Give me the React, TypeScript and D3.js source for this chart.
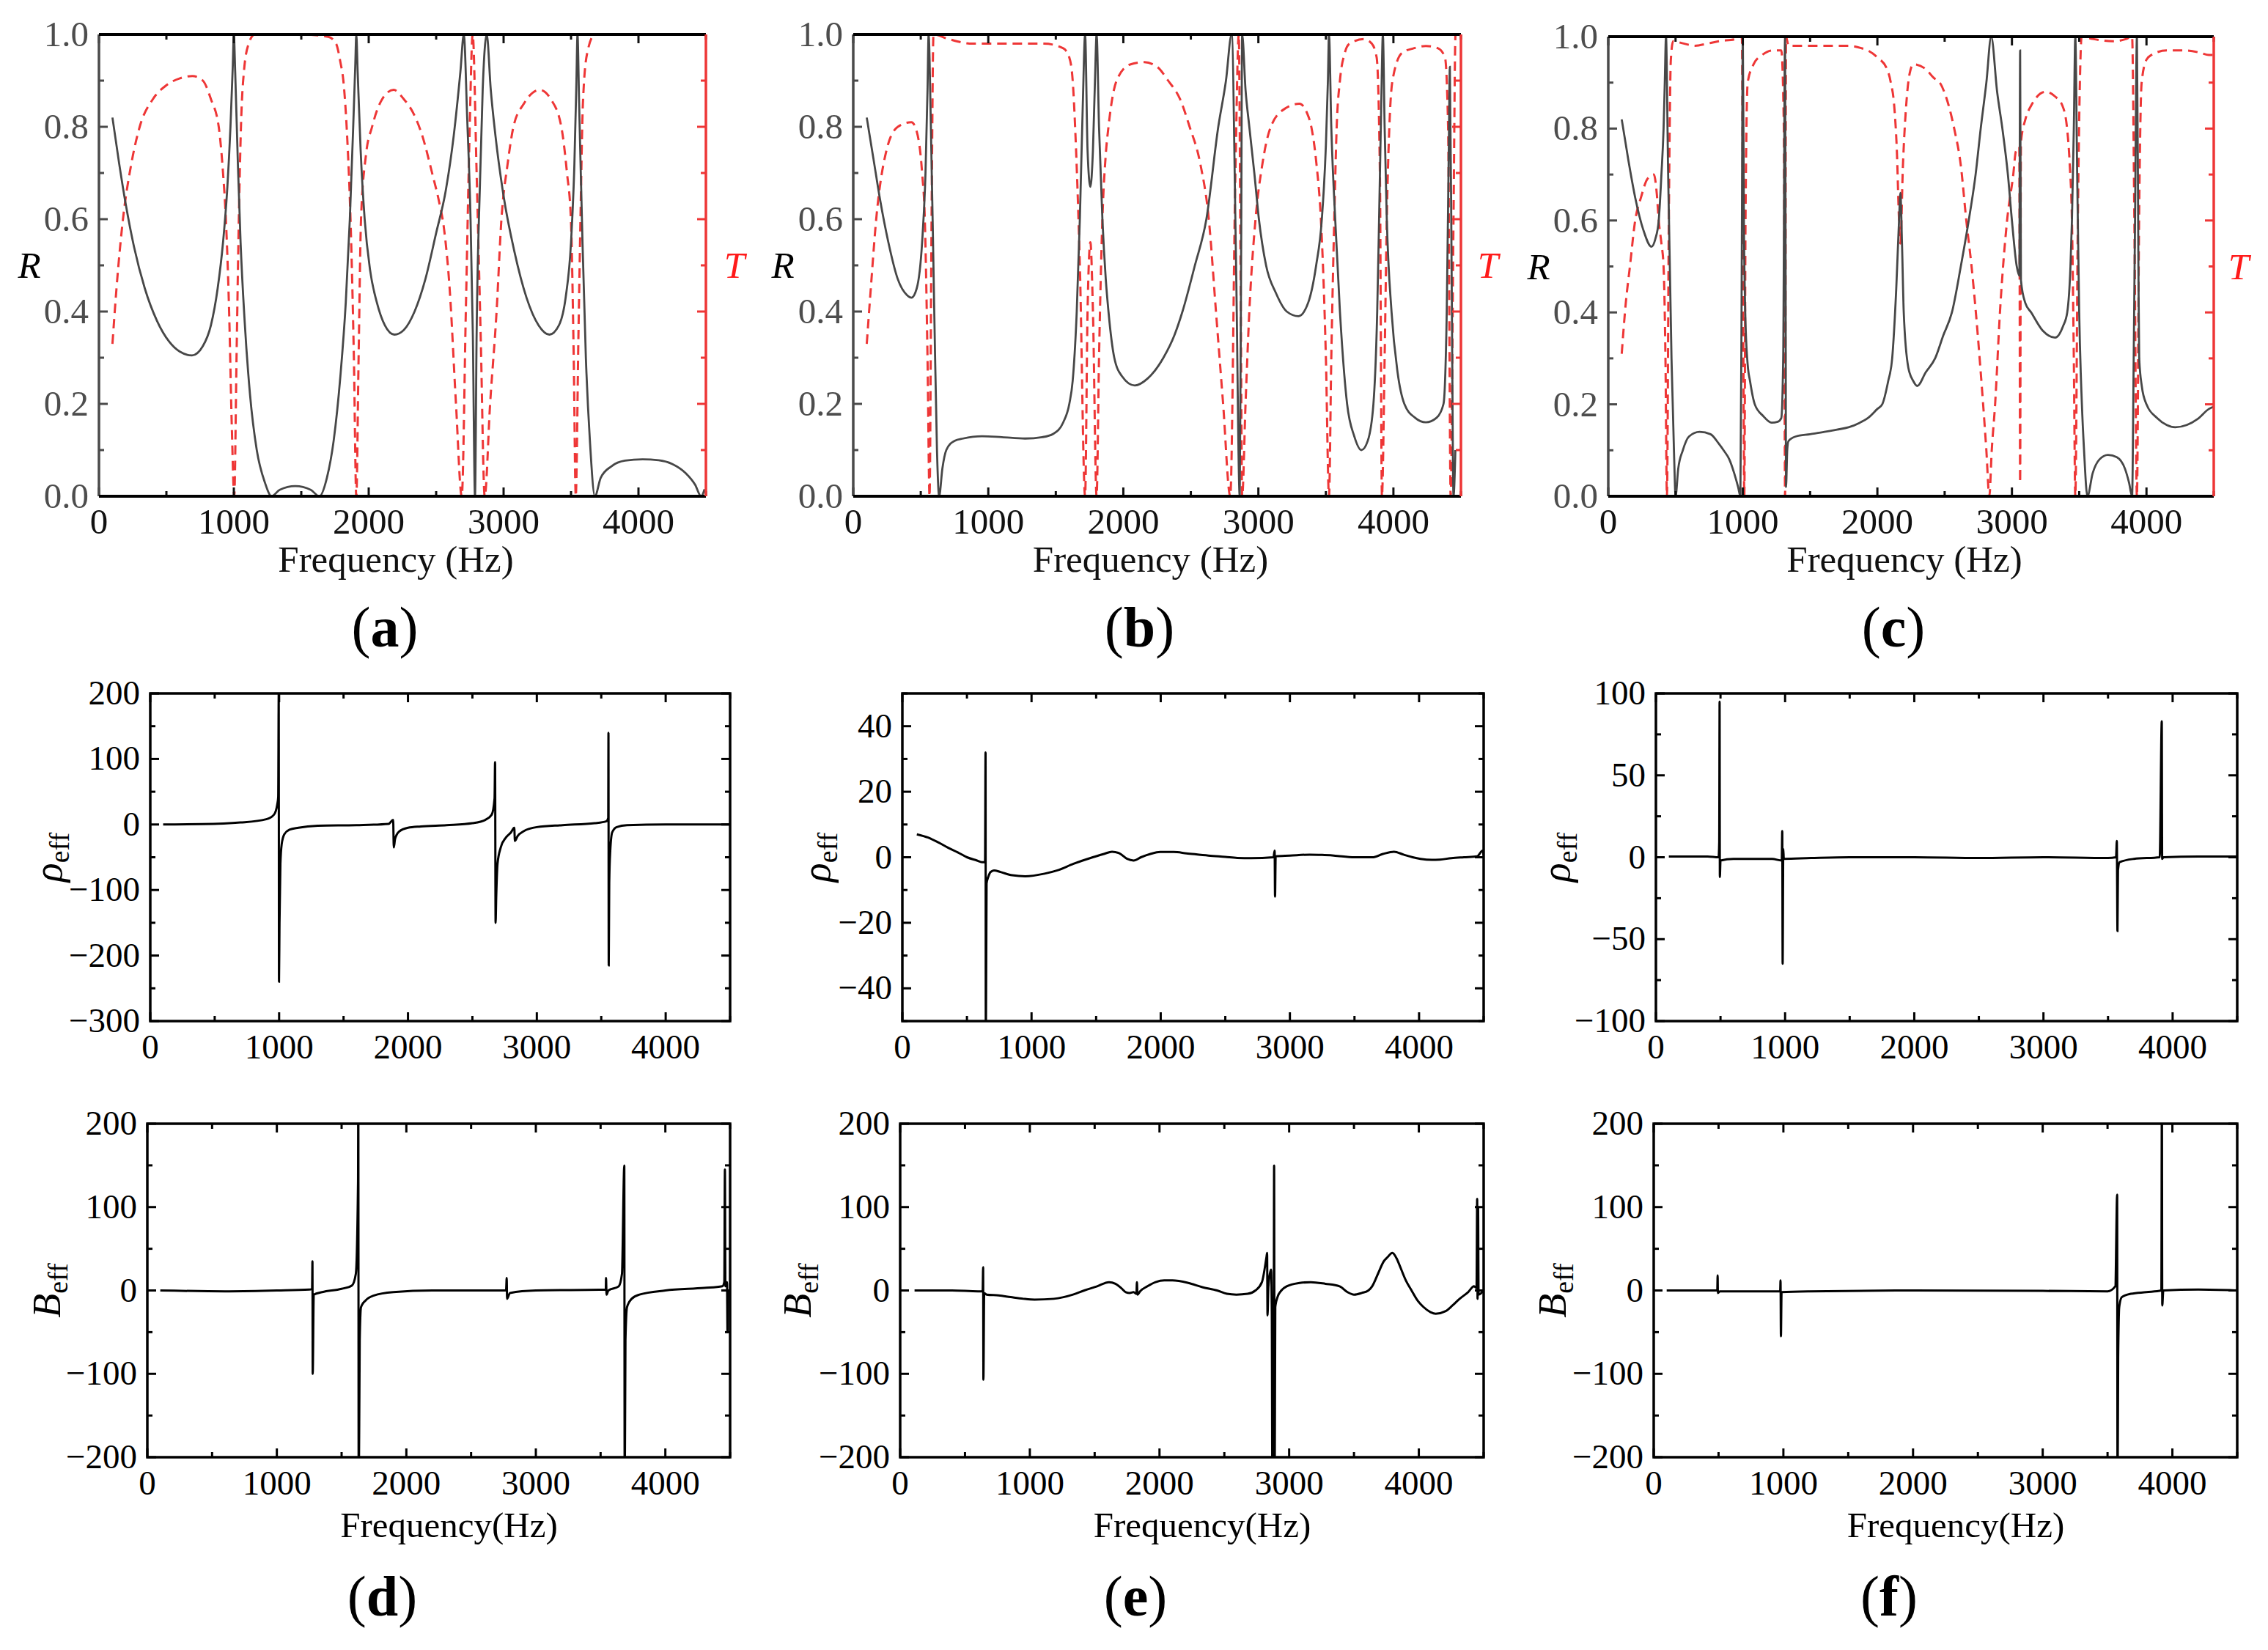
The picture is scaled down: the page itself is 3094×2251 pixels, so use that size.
import React from "react";
import * as d3 from "d3";

type Pt = [number, number];

// ---------- tick values ----------
const freqTicks = [0, 1000, 2000, 3000, 4000];
const rtTicks = [0, 0.2, 0.4, 0.6, 0.8, 1.0];
const rhoTicksD = [-300, -200, -100, 0, 100, 200];
const rhoTicksE = [-40, -20, 0, 20, 40];
const rhoTicksF = [-100, -50, 0, 50, 100];
const bTicks = [-200, -100, 0, 100, 200];

// ---------- (a) reflection R and transmission T ----------
const aR: Pt[] = [
  [100, 0.82], [150, 0.72], [200, 0.63], [260, 0.54], [340, 0.45], [430, 0.38], [520, 0.335],
  [600, 0.313], [690, 0.305], [770, 0.325], [830, 0.37], [880, 0.45], [920, 0.55], [950, 0.66],
  [975, 0.8], [992, 0.93], [1000, 1.0], [1010, 0.92], [1030, 0.72], [1050, 0.55], [1080, 0.38],
  [1120, 0.22], [1170, 0.1], [1230, 0.03], [1280, 0], [1340, 0.014], [1456, 0.022], [1570, 0.014],
  [1634, 0], [1690, 0.04], [1740, 0.12], [1790, 0.26], [1830, 0.42], [1860, 0.6], [1885, 0.8],
  [1900, 0.93], [1908, 1.0], [1918, 0.92], [1940, 0.75], [1970, 0.6], [2010, 0.49], [2060, 0.42],
  [2120, 0.37], [2190, 0.35], [2260, 0.36], [2340, 0.4], [2420, 0.47], [2500, 0.57], [2570, 0.66],
  [2630, 0.78], [2680, 0.92], [2705, 1.0], [2730, 0.82], [2755, 0.6], [2772, 0.35], [2788, 0],
  [2800, 0.35], [2825, 0.68], [2845, 0.88], [2875, 1.0], [2905, 0.88], [2940, 0.78], [3000, 0.65],
  [3080, 0.53], [3170, 0.43], [3260, 0.37], [3340, 0.35], [3410, 0.37], [3460, 0.43], [3500, 0.55],
  [3525, 0.72], [3540, 0.9], [3548, 1.0], [3560, 0.85], [3585, 0.55], [3610, 0.3], [3640, 0.12],
  [3677, 0], [3720, 0.04], [3800, 0.065], [3900, 0.077], [4030, 0.08], [4150, 0.078], [4250, 0.07],
  [4350, 0.05], [4420, 0.025], [4465, 0], [4490, 0.015],
];
const aT: Pt[] = [
  [100, 0.33], [130, 0.45], [178, 0.6], [240, 0.72], [302, 0.8], [400, 0.86], [500, 0.89],
  [600, 0.905], [693, 0.91], [770, 0.9], [830, 0.86], [888, 0.8], [920, 0.7], [941, 0.6],
  [965, 0.4], [985, 0.15], [1003, 0], [1020, 0.3], [1037, 0.6], [1055, 0.82], [1075, 0.92],
  [1110, 0.98], [1155, 1.0], [1500, 1.0], [1700, 0.995], [1758, 0.98], [1790, 0.94], [1812, 0.9],
  [1840, 0.78], [1865, 0.6], [1890, 0.3], [1908, 0], [1925, 0.3], [1943, 0.6], [1980, 0.74],
  [2025, 0.8], [2100, 0.86], [2185, 0.88], [2260, 0.86], [2330, 0.83], [2398, 0.78], [2470, 0.7],
  [2520, 0.64], [2558, 0.58], [2600, 0.45], [2647, 0.2], [2690, 0], [2720, 0.4], [2745, 0.75],
  [2771, 1.0], [2800, 0.7], [2830, 0.35], [2860, 0], [2900, 0.2], [2948, 0.4], [2984, 0.6],
  [3030, 0.72], [3073, 0.8], [3150, 0.85], [3268, 0.88], [3350, 0.86], [3428, 0.8], [3470, 0.7],
  [3499, 0.6], [3520, 0.3], [3535, 0], [3555, 0.35], [3570, 0.6], [3588, 0.85], [3620, 0.96],
  [3677, 1.0], [4500, 1.0],
];

// ---------- (b) ----------
const bR: Pt[] = [
  [100, 0.82], [150, 0.73], [200, 0.64], [260, 0.55], [330, 0.47], [400, 0.435], [431, 0.43],
  [470, 0.45], [510, 0.55], [535, 0.7], [550, 0.88], [558, 1.0], [575, 0.8], [600, 0.4],
  [620, 0.1], [636, 0], [660, 0.06], [689, 0.1], [750, 0.12], [813, 0.125], [954, 0.13],
  [1100, 0.128], [1272, 0.125], [1400, 0.128], [1480, 0.135], [1555, 0.16], [1600, 0.2],
  [1625, 0.25], [1655, 0.4], [1678, 0.6], [1700, 0.85], [1717, 1.0], [1735, 0.75], [1756, 0.67],
  [1775, 0.75], [1790, 0.9], [1802, 1.0], [1820, 0.8], [1845, 0.6], [1870, 0.47], [1890, 0.4],
  [1933, 0.3], [1990, 0.26], [2085, 0.24], [2180, 0.255], [2297, 0.3], [2380, 0.35], [2438, 0.4],
  [2530, 0.5], [2615, 0.6], [2703, 0.8], [2760, 0.9], [2802, 1.0], [2835, 0.5], [2862, 0],
  [2872, 0.5], [2880, 1.0], [2905, 0.88], [2933, 0.8], [2970, 0.7], [3004, 0.6], [3057, 0.5],
  [3130, 0.44], [3210, 0.4], [3297, 0.39], [3370, 0.42], [3428, 0.5], [3470, 0.6], [3500, 0.76],
  [3515, 0.9], [3523, 1.0], [3540, 0.8], [3569, 0.6], [3604, 0.4], [3657, 0.2], [3710, 0.13],
  [3763, 0.1], [3810, 0.12], [3852, 0.2], [3880, 0.4], [3894, 0.6], [3910, 0.85], [3922, 1.0],
  [3935, 0.8], [3951, 0.6], [3986, 0.4], [4030, 0.27], [4081, 0.2], [4160, 0.17], [4240, 0.16],
  [4320, 0.17], [4371, 0.2], [4395, 0.4], [4410, 0.75], [4418, 0.93], [4432, 0.45], [4445, 0],
  [4459, 0.1],
];
const bT: Pt[] = [
  [100, 0.33], [130, 0.45], [170, 0.6], [247, 0.75], [330, 0.8], [431, 0.81], [470, 0.79],
  [510, 0.7], [530, 0.6], [550, 0.3], [565, 0], [580, 0.6], [594, 1.0], [707, 0.99], [883, 0.98],
  [1413, 0.98], [1555, 0.97], [1600, 0.95], [1625, 0.9], [1650, 0.75], [1678, 0.5], [1717, 0],
  [1735, 0.4], [1756, 0.55], [1775, 0.4], [1802, 0], [1820, 0.3], [1845, 0.6], [1870, 0.74],
  [1890, 0.8], [1950, 0.9], [2050, 0.935], [2155, 0.94], [2250, 0.93], [2332, 0.9], [2420, 0.86],
  [2491, 0.8], [2570, 0.72], [2633, 0.6], [2686, 0.4], [2739, 0.2], [2792, 0], [2830, 0.7],
  [2855, 1.0], [2868, 0.5], [2880, 0], [2905, 0.2], [2933, 0.4], [2979, 0.6], [3030, 0.72],
  [3092, 0.8], [3200, 0.84], [3304, 0.85], [3360, 0.83], [3392, 0.8], [3430, 0.72], [3463, 0.6],
  [3500, 0.3], [3523, 0], [3540, 0.3], [3562, 0.6], [3580, 0.8], [3604, 0.9], [3640, 0.96],
  [3675, 0.98], [3781, 0.99], [3840, 0.98], [3876, 0.95], [3900, 0.7], [3915, 0], [3935, 0.3],
  [3951, 0.6], [3970, 0.8], [3993, 0.9], [4064, 0.96], [4150, 0.97], [4240, 0.975], [4330, 0.97],
  [4382, 0.95], [4405, 0.8], [4424, 0], [4445, 0.6], [4460, 1.0], [4500, 1.0],
];

// ---------- (c) ----------
const cR: Pt[] = [
  [100, 0.82], [150, 0.73], [200, 0.65], [260, 0.58], [321, 0.543], [350, 0.56], [375, 0.6],
  [395, 0.7], [411, 0.8], [420, 0.9], [429, 1.0], [445, 0.7], [470, 0.3], [490, 0.08], [500, 0],
  [520, 0.06], [554, 0.1], [600, 0.13], [679, 0.14], [760, 0.135], [820, 0.115], [857, 0.1],
  [900, 0.08], [936, 0.05], [965, 0.02], [982, 0], [992, 0.5], [1000, 1.0], [1008, 0.6],
  [1018, 0.4], [1035, 0.29], [1054, 0.25], [1089, 0.2], [1150, 0.175], [1214, 0.16],
  [1260, 0.162], [1286, 0.17], [1300, 0.3], [1314, 1.0], [1318, 0.5], [1321, 0.02], [1330, 0.1],
  [1339, 0.12], [1393, 0.13], [1500, 0.135], [1607, 0.14], [1700, 0.145], [1786, 0.15],
  [1870, 0.16], [1929, 0.17], [2000, 0.19], [2036, 0.2], [2080, 0.25], [2110, 0.3], [2140, 0.45],
  [2161, 0.6], [2171, 0.66], [2183, 0.55], [2196, 0.4], [2230, 0.28], [2268, 0.25], [2296, 0.24],
  [2360, 0.27], [2429, 0.3], [2490, 0.35], [2554, 0.4], [2620, 0.5], [2679, 0.6], [2730, 0.7],
  [2768, 0.8], [2810, 0.9], [2846, 1.0], [2890, 0.88], [2929, 0.8], [2970, 0.7], [3000, 0.6],
  [3036, 0.5], [3055, 0.48], [3061, 0.97], [3067, 0.47], [3100, 0.42], [3143, 0.4], [3230, 0.36],
  [3321, 0.345], [3380, 0.37], [3411, 0.4], [3435, 0.5], [3446, 0.6], [3460, 0.8], [3471, 1.0],
  [3485, 0.7], [3500, 0.4], [3520, 0.2], [3536, 0.1], [3561, 0], [3600, 0.05], [3650, 0.08],
  [3714, 0.09], [3780, 0.085], [3840, 0.06], [3870, 0.03], [3893, 0], [3905, 0.3], [3915, 0.6],
  [3929, 1.0], [3940, 0.5], [3946, 0.3], [3965, 0.24], [4000, 0.2], [4080, 0.17], [4150, 0.155],
  [4214, 0.15], [4300, 0.155], [4380, 0.168], [4464, 0.19], [4500, 0.195],
];
const cT: Pt[] = [
  [100, 0.31], [130, 0.42], [161, 0.5], [200, 0.6], [243, 0.65], [290, 0.69], [339, 0.7],
  [360, 0.66], [375, 0.6], [395, 0.55], [411, 0.5], [425, 0.3], [436, 0], [450, 0.6], [465, 0.95],
  [482, 0.99], [560, 0.985], [643, 0.98], [740, 0.985], [821, 0.99], [950, 0.995], [993, 1.0],
  [1003, 0.4], [1011, 0], [1020, 0.6], [1036, 0.9], [1080, 0.94], [1143, 0.96], [1220, 0.97],
  [1286, 0.97], [1305, 0.8], [1314, 0], [1321, 1.0], [1340, 0.98], [1429, 0.98], [1600, 0.98],
  [1786, 0.98], [1880, 0.975], [1929, 0.97], [2000, 0.955], [2071, 0.93], [2100, 0.9],
  [2125, 0.85], [2145, 0.75], [2161, 0.6], [2171, 0.55], [2190, 0.72], [2214, 0.85], [2240, 0.92],
  [2268, 0.94], [2357, 0.93], [2420, 0.91], [2464, 0.9], [2520, 0.86], [2571, 0.8], [2620, 0.72],
  [2661, 0.6], [2700, 0.5], [2732, 0.4], [2760, 0.3], [2786, 0.2], [2810, 0.1], [2832, 0],
  [2850, 0.1], [2875, 0.2], [2911, 0.4], [2964, 0.6], [3010, 0.7], [3029, 0.75], [3055, 0.76],
  [3061, 0.03], [3067, 0.77], [3100, 0.82], [3143, 0.85], [3250, 0.88], [3320, 0.87], [3375, 0.85],
  [3410, 0.8], [3430, 0.72], [3446, 0.6], [3460, 0.3], [3471, 0], [3490, 0.6], [3505, 0.9],
  [3518, 1.0], [3600, 0.995], [3750, 0.99], [3850, 0.995], [3893, 1.0], [3910, 0.6], [3929, 0],
  [3945, 0.6], [3964, 0.9], [4000, 0.95], [4036, 0.96], [4150, 0.97], [4286, 0.97], [4400, 0.965],
  [4464, 0.96], [4500, 0.96],
];

// ---------- (d)(e)(f) effective density and bulk modulus ----------
const dRho: Pt[] = [
  [100, 0], [400, 0.5], [700, 3], [900, 8], [960, 15], [985, 30], [993, 42], [997, 200],
  [999, -240], [1003, -150], [1010, -60], [1020, -30], [1040, -15], [1080, -8], [1150, -5],
  [1300, -2], [1600, -1], [1850, 1], [1885, 7], [1890, -35], [1900, -22], [1930, -11], [2000, -5],
  [2100, -3], [2300, -1], [2500, 2], [2600, 7], [2650, 15], [2672, 40], [2676, 95], [2680, -150],
  [2685, -110], [2695, -60], [2720, -35], [2760, -20], [2800, -12], [2825, -5], [2830, -25],
  [2850, -18], [2900, -10], [3000, -4], [3200, -1], [3450, 2], [3540, 5], [3554, 10], [3556, 140],
  [3558, -215], [3562, -90], [3570, -40], [3585, -12], [3620, -4], [3700, -1], [4000, 0], [4500, 0],
];
const dB: Pt[] = [
  [100, 0], [600, -1], [1000, 0], [1250, 1], [1272, 2], [1275, 35], [1277, -100], [1285, -5],
  [1350, -2], [1500, 2], [1580, 6], [1610, 20], [1627, 130], [1629, 260], [1632, -260],
  [1640, -60], [1650, -20], [1685, -12], [1750, -6], [1900, -2], [2200, 0], [2770, 0], [2775, 15],
  [2778, -10], [2800, -3], [3000, 0], [3540, 1], [3542, 15], [3546, -5], [3560, 0], [3640, 5],
  [3665, 20], [3683, 150], [3686, -260], [3692, -60], [3704, -20], [3740, -10], [3800, -5],
  [4000, 0], [4300, 3], [4440, 5], [4455, 10], [4460, 145], [4464, 5], [4476, 10], [4480, -50],
  [4486, 0], [4500, 0],
];
const eRho: Pt[] = [
  [112, 7], [200, 6], [280, 4.5], [350, 3], [429, 1.5], [500, 0], [578, -1], [616, -1.5],
  [640, -1.5], [644, 32], [646, -60], [652, -8], [665, -6], [683, -4.5], [709, -4], [760, -4.5],
  [850, -5.5], [951, -5.8], [1101, -5], [1200, -4], [1325, -2], [1474, 0], [1560, 1], [1623, 1.7],
  [1680, 1.2], [1740, -0.5], [1790, -1], [1847, 0], [1920, 1], [1996, 1.6], [2100, 1.6],
  [2200, 1.2], [2369, 0.5], [2500, 0.1], [2593, -0.2], [2700, -0.3], [2873, 0], [2882, 2],
  [2885, -12], [2890, 0.3], [3000, 0.5], [3153, 0.8], [3250, 0.7], [3340, 0.5], [3500, 0],
  [3638, 0], [3720, 1], [3806, 1.7], [3880, 0.8], [3950, 0], [4011, -0.5], [4100, -0.8],
  [4160, -0.7], [4250, -0.3], [4347, 0], [4450, 0.3], [4492, 2], [4500, 0.5],
];
const eB: Pt[] = [
  [111, 0], [400, 0], [600, -1], [636, -1], [640, 28], [642, -107], [648, -3], [667, -5],
  [760, -6], [852, -8], [950, -10], [1037, -11], [1185, -10], [1333, -5], [1420, 0], [1519, 5],
  [1611, 10], [1660, 8], [1704, 3], [1740, -2], [1770, -3], [1800, -2], [1822, -4], [1826, 10],
  [1830, -5], [1850, -1], [1907, 5], [1970, 10], [2037, 12], [2100, 12], [2222, 9], [2330, 4],
  [2444, 0], [2520, -4], [2593, -5], [2680, -4], [2740, 0], [2790, 10], [2825, 40], [2830, 45],
  [2833, -30], [2840, 5], [2860, 25], [2866, -25], [2871, -260], [2875, -40], [2879, -260],
  [2884, 150], [2888, -260], [2893, -20], [2910, -8], [2940, 0], [2981, 5], [3080, 9], [3167, 10],
  [3280, 8], [3389, 5], [3450, -2], [3500, -5], [3560, -3], [3611, 0], [3640, 5], [3685, 20],
  [3730, 35], [3759, 40], [3796, 45], [3830, 38], [3852, 30], [3900, 12], [3944, 0], [3990, -12],
  [4037, -20], [4090, -26], [4130, -28], [4204, -25], [4260, -18], [4315, -10], [4380, -2],
  [4426, 5], [4445, 3], [4450, 110], [4453, -10], [4457, 100], [4461, -5], [4500, 0],
];
const fRho: Pt[] = [
  [100, 0.5], [400, 0.5], [485, 0], [490, 9], [493, 95], [495, -12], [500, -2], [600, -1],
  [900, -1], [974, -2], [978, 16], [981, -65], [986, 5], [990, -1], [1200, -0.5], [1500, 0],
  [2000, 0], [2500, -0.5], [3000, 0], [3500, -0.5], [3562, 0], [3568, 10], [3573, -45], [3577, -8],
  [3590, -3], [3700, -1], [3900, 0], [3916, 83], [3919, -1], [3930, 0], [4200, 0.5], [4500, 0.5],
];
const fB: Pt[] = [
  [100, 0], [400, 0], [490, 0], [493, 18], [495, -3], [510, -1], [900, -1], [975, -1], [978, 12],
  [981, -55], [986, -2], [1200, -1], [2000, 0], [3000, -0.5], [3500, -1], [3560, 5], [3574, 115],
  [3577, -260], [3582, -80], [3590, -20], [3610, -8], [3680, -4], [3800, -2], [3915, 0],
  [3919, 260], [3922, -18], [3930, 0], [4200, 1], [4500, 0],
];

const W = 3094;
const H = 2251;
const RED = "#ee3636";
const SERIF = "'Liberation Serif', 'Times New Roman', serif";

interface Box { l: number; r: number; t: number; b: number }

const fmt1 = d3.format(".1f");
const fmtD = d3.format("d");

function PanelLetter({ x, y, letter }: { x: number; y: number; letter: string }) {
  return (
    <text x={x} y={y} textAnchor="middle" fontFamily={SERIF} fontSize={78} fill="#000">
      (<tspan fontWeight="bold">{letter}</tspan>)
    </text>
  );
}

function RTPanel({ id, box, rData, tData, letter, rX, tX }: {
  id: string; box: Box; rData: Pt[]; tData: Pt[]; letter: string; rX: number; tX: number;
}) {
  const x = d3.scaleLinear().domain([0, 4500]).range([box.l, box.r]);
  const y = d3.scaleLinear().domain([0, 1]).range([box.b, box.t]);
  const line = d3.line<Pt>().x((d) => x(d[0])).y((d) => y(d[1])).curve(d3.curveMonotoneX);
  const xMinor = d3.range(0, 4501, 500);
  const yMinor = d3.range(0, 11).map((i) => i / 10);
  const cy = (box.t + box.b) / 2;
  const cx = (box.l + box.r) / 2;
  return (
    <g>
      <clipPath id={id}>
        <rect x={box.l} y={box.t} width={box.r - box.l} height={box.b - box.t} />
      </clipPath>
      <g clipPath={`url(#${id})`}>
        <path d={line(tData) ?? ""} fill="none" stroke={RED} strokeWidth={3} strokeDasharray="13,8" />
        <path d={line(rData) ?? ""} fill="none" stroke="#474747" strokeWidth={2.8} />
      </g>
      {/* ticks, inward on all sides */}
      {xMinor.map((v) => {
        const len = v % 1000 === 0 ? 12 : 7;
        return (
          <g key={"x" + v} stroke="#111" strokeWidth={3}>
            <line x1={x(v)} x2={x(v)} y1={box.b} y2={box.b - len} />
            <line x1={x(v)} x2={x(v)} y1={box.t} y2={box.t + len} />
          </g>
        );
      })}
      {yMinor.map((v, i) => {
        const len = i % 2 === 0 ? 12 : 7;
        return (
          <g key={"y" + i} strokeWidth={3}>
            <line x1={box.l} x2={box.l + len} y1={y(v)} y2={y(v)} stroke="#4a4a4a" />
            <line x1={box.r} x2={box.r - len} y1={y(v)} y2={y(v)} stroke={RED} />
          </g>
        );
      })}
      {/* frame */}
      <line x1={box.l} x2={box.l} y1={box.t} y2={box.b} stroke="#4a4a4a" strokeWidth={3.5} />
      <line x1={box.l} x2={box.r} y1={box.t} y2={box.t} stroke="#000" strokeWidth={4} />
      <line x1={box.l} x2={box.r} y1={box.b} y2={box.b} stroke="#000" strokeWidth={4} />
      <line x1={box.r} x2={box.r} y1={box.t} y2={box.b} stroke={RED} strokeWidth={3.5} />
      {/* labels */}
      {rtTicks.map((v) => (
        <text key={"yl" + v} x={box.l - 14} y={y(v) + 16} textAnchor="end" fontFamily={SERIF} fontSize={49} fill="#4d4d4d">
          {fmt1(v)}
        </text>
      ))}
      {freqTicks.map((v) => (
        <text key={"xl" + v} x={x(v)} y={box.b + 51} textAnchor="middle" fontFamily={SERIF} fontSize={49} fill="#111">
          {v}
        </text>
      ))}
      <text x={cx - 9} y={box.b + 103} textAnchor="middle" fontFamily={SERIF} fontSize={51} fill="#111">
        Frequency (Hz)
      </text>
      <text x={rX} y={cy + 17} textAnchor="middle" fontFamily={SERIF} fontSize={51} fontStyle="italic" fill="#000">R</text>
      <text x={tX} y={cy + 17} textAnchor="middle" fontFamily={SERIF} fontSize={51} fontStyle="italic" fill="#ff1a1a">T</text>
      <PanelLetter x={cx - 24} y={box.b + 205} letter={letter} />
    </g>
  );
}

function EffPanel({ id, box, data, domain, ticks, minorStep, kind, labelX, title, letter }: {
  id: string; box: Box; data: Pt[]; domain: [number, number]; ticks: number[]; minorStep: number;
  kind: "rho" | "B"; labelX: number; title?: boolean; letter?: string;
}) {
  const x = d3.scaleLinear().domain([0, 4500]).range([box.l, box.r]);
  const y = d3.scaleLinear().domain(domain).range([box.b, box.t]);
  const line = d3.line<Pt>().x((d) => x(d[0])).y((d) => y(d[1])).curve(d3.curveMonotoneX);
  const xMinor = d3.range(0, 4501, 500);
  const yMinor = d3.range(domain[0], domain[1] + 0.001, minorStep);
  const cy = (box.t + box.b) / 2;
  const cx = (box.l + box.r) / 2;
  return (
    <g>
      <clipPath id={id}>
        <rect x={box.l} y={box.t} width={box.r - box.l} height={box.b - box.t} />
      </clipPath>
      <path d={line(data) ?? ""} clipPath={`url(#${id})`} fill="none" stroke="#000" strokeWidth={3} />
      <g stroke="#000" strokeWidth={3}>
        {xMinor.map((v) => {
          const len = v % 1000 === 0 ? 12 : 7;
          return (
            <g key={"x" + v}>
              <line x1={x(v)} x2={x(v)} y1={box.b} y2={box.b - len} />
              <line x1={x(v)} x2={x(v)} y1={box.t} y2={box.t + len} />
            </g>
          );
        })}
        {yMinor.map((v) => {
          const len = ticks.includes(v) ? 12 : 7;
          return (
            <g key={"y" + v}>
              <line x1={box.l} x2={box.l + len} y1={y(v)} y2={y(v)} />
              <line x1={box.r} x2={box.r - len} y1={y(v)} y2={y(v)} />
            </g>
          );
        })}
        <rect x={box.l} y={box.t} width={box.r - box.l} height={box.b - box.t} fill="none" strokeWidth={3.5} />
      </g>
      {ticks.map((v) => (
        <text key={"yl" + v} x={box.l - 14} y={y(v) + 15} textAnchor="end" fontFamily={SERIF} fontSize={47} fill="#000">
          {fmtD(v)}
        </text>
      ))}
      {freqTicks.map((v) => (
        <text key={"xl" + v} x={x(v)} y={box.b + 51} textAnchor="middle" fontFamily={SERIF} fontSize={47} fill="#000">
          {v}
        </text>
      ))}
      <text transform={`translate(${labelX},${cy}) rotate(-90)`} textAnchor="middle" fontFamily={SERIF} fontSize={54} fill="#000" dy={16}>
        <tspan fontStyle="italic">{kind === "rho" ? "ρ" : "B"}</tspan>
        <tspan fontSize={38} dy={10}>eff</tspan>
      </text>
      {title && (
        <text x={cx + 14} y={box.b + 109} textAnchor="middle" fontFamily={SERIF} fontSize={49} fill="#000">
          Frequency(Hz)
        </text>
      )}
      {letter && <PanelLetter x={cx - 77} y={box.b + 216} letter={letter} />}
    </g>
  );
}

export default function App() {
  const topA: Box = { l: 135, r: 963, t: 47, b: 677 };
  const topB: Box = { l: 1164, r: 1993, t: 47, b: 677 };
  const topC: Box = { l: 2194, r: 3020, t: 50, b: 677 };
  const rho = (l: number, r: number): Box => ({ l, r, t: 946, b: 1393 });
  const bul = (l: number, r: number): Box => ({ l, r, t: 1533, b: 1988 });
  return (
    <svg width={W} height={H} viewBox={`0 0 ${W} ${H}`} style={{ position: "absolute", left: 0, top: 0, background: "#fff" }}>
      <rect width={W} height={H} fill="#fff" />
      <RTPanel id="ca" box={topA} rData={aR} tData={aT} letter="a" rX={40} tX={1002} />
      <RTPanel id="cb" box={topB} rData={bR} tData={bT} letter="b" rX={1068} tX={2030} />
      <RTPanel id="cc" box={topC} rData={cR} tData={cT} letter="c" rX={2099} tX={3054} />

      <EffPanel id="dr" box={rho(205, 996)} data={dRho} domain={[-300, 200]} ticks={rhoTicksD} minorStep={50} kind="rho" labelX={68} />
      <EffPanel id="db" box={bul(201, 996)} data={dB} domain={[-200, 200]} ticks={bTicks} minorStep={50} kind="B" labelX={66} title letter="d" />
      <EffPanel id="er" box={rho(1231, 2024)} data={eRho} domain={[-50, 50]} ticks={rhoTicksE} minorStep={10} kind="rho" labelX={1116} />
      <EffPanel id="eb" box={bul(1228, 2024)} data={eB} domain={[-200, 200]} ticks={bTicks} minorStep={50} kind="B" labelX={1090} title letter="e" />
      <EffPanel id="fr" box={rho(2259, 3052)} data={fRho} domain={[-100, 100]} ticks={rhoTicksF} minorStep={25} kind="rho" labelX={2125} />
      <EffPanel id="fb" box={bul(2256, 3052)} data={fB} domain={[-200, 200]} ticks={bTicks} minorStep={50} kind="B" labelX={2120} title letter="f" />
    </svg>
  );
}
